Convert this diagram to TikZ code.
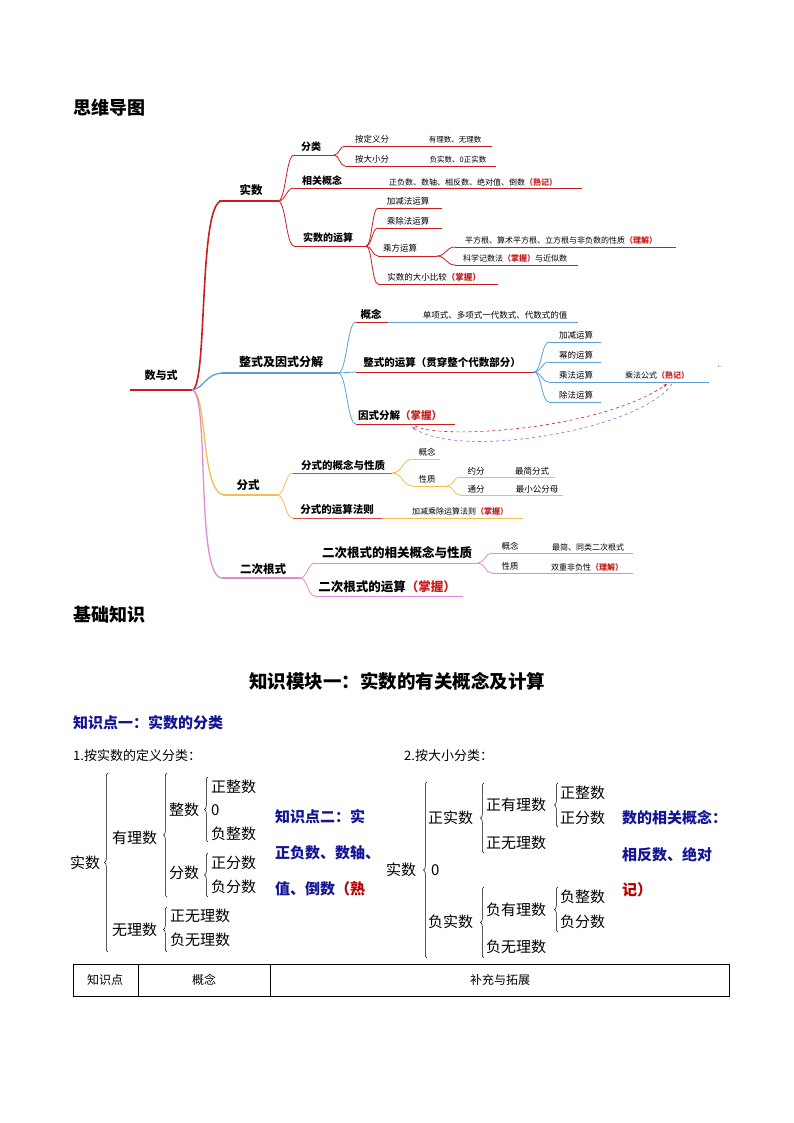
\documentclass[tikz,border=0pt]{standalone}
\usepackage{fontspec}
\setmainfont{Noto Sans CJK SC}
\usetikzlibrary{decorations.pathreplacing,arrows.meta}
\definecolor{mred}{RGB}{200,30,30}
\definecolor{mblue}{RGB}{90,160,215}
\definecolor{morange}{RGB}{242,190,80}
\definecolor{mpink}{RGB}{222,140,210}
\definecolor{kblue}{RGB}{20,20,150}
\definecolor{kred}{RGB}{180,0,0}
\newcommand{\fs}[1]{\fontsize{#1}{#1}\selectfont}
\newcommand{\rt}[1]{\textcolor{mred}{#1}}
\newcommand{\brc}[5]{\draw[#1,line width=0.8] (#2,#3) .. controls ({(#2+#4)/2},#3) and ({(#2+#4)/2},#5) .. (#4,#5);}
\newcommand{\uln}[4]{\draw[#1,line width=0.8] (#2,#4) -- (#3,#4);}
\tikzset{mm/.style={font=\fs{8.5}},tr/.style={font=\fs{15},anchor=west,inner sep=0},trb/.style={decorate,decoration={brace,amplitude=3.5},line width=0.5}}
\begin{document}
\begin{tikzpicture}[x=1pt,y=-1pt]
\useasboundingbox (0,0) rectangle (794,1123);
\node[font=\fs{18}\bfseries,anchor=west,inner sep=0] at (73,108) {思维导图};
% root
\node[font=\fs{11}\bfseries] (root) at (161,375) {数与式};
\draw[mred,line width=1.3] (130,390) -- (192,390);
\draw[mred,line width=1.6] (192,390) .. controls (208,390) and (198,201) .. (222,201);
\draw[mblue,line width=1.3] (192,390) .. controls (205,388) and (205,373) .. (224,373);
\draw[morange,line width=1.3] (192,390) .. controls (208,392) and (200,495) .. (225,495);
\draw[mpink,line width=1.3] (192,390) .. controls (210,392) and (195,578) .. (222,578);
% ---- 实数
\node[font=\fs{11.5}\bfseries] at (251,190) {实数};
\draw[mred,line width=1.3] (219,201) -- (278,201);
\brc{mred}{278}{201}{294}{155}\uln{mred}{294}{334}{155}
\node[font=\fs{10}\bfseries] at (311,147) {分类};
\brc{mred}{334}{155}{345}{146}\uln{mred}{345}{492}{146}
\brc{mred}{334}{155}{345}{166}\uln{mred}{345}{496}{166}
\node[mm] at (372,139) {按定义分};\node[font=\fs{7.5}] at (455,140) {有理数、无理数};
\node[mm] at (372,159) {按大小分};\node[font=\fs{7.5}] at (458,160) {负实数、0正实数};
\brc{mred}{278}{201}{294}{188}\uln{mred}{294}{582}{188}
\node[font=\fs{10}\bfseries] at (322,181) {相关概念};
\node[font=\fs{8}] at (473,182) {正负数、数轴、相反数、绝对值、倒数\rt{\bfseries（熟记）}};
\brc{mred}{278}{201}{294}{246}\uln{mred}{294}{366}{246}
\node[font=\fs{10}\bfseries] at (328,238) {实数的运算};
\brc{mred}{366}{246}{378}{208}\uln{mred}{378}{442}{208}
\brc{mred}{366}{246}{378}{228}\uln{mred}{378}{442}{228}
\brc{mred}{366}{246}{378}{256}\uln{mred}{378}{437}{256}
\brc{mred}{366}{246}{378}{284}\uln{mred}{378}{498}{284}
\node[mm] at (408,201) {加减法运算};
\node[mm] at (408,221) {乘除法运算};
\node[mm] at (400,248) {乘方运算};
\node[mm] at (434,277) {实数的大小比较\rt{\bfseries（掌握）}};
\brc{mred}{437}{256}{455}{247}\uln{mred}{455}{676}{247}
\brc{mred}{437}{256}{455}{265}\uln{mred}{455}{578}{265}
\node[font=\fs{8}] at (561,240) {平方根、算术平方根、立方根与非负数的性质\rt{\bfseries（理解）}};
\node[font=\fs{8}] at (515,258) {科学记数法\rt{\bfseries（掌握）}与近似数};
% ---- 整式
\node[font=\fs{12}\bfseries] at (281,362) {整式及因式分解};
\draw[mblue,line width=1.1] (222,373) -- (338,373);
\brc{mblue}{338}{373}{356}{322}\uln{mblue}{356}{578}{322}\draw[mred,line width=1] (356,322)--(388,322);
\node[font=\fs{10.5}\bfseries] at (371,314) {概念};
\node[font=\fs{8.5}] at (495,315) {单项式、多项式一代数式、代数式的值};
\brc{mblue}{338}{373}{356}{372}\draw[mred,line width=1] (356,372)--(534,372);
\node[font=\fs{10.5}\bfseries] at (442,363) {整式的运算（贯穿整个代数部分）};
\brc{mblue}{338}{373}{356}{424}\draw[mred,line width=1] (356,424)--(455,424);
\node[font=\fs{10.5}\bfseries] at (400,415) {因式分解\rt{（掌握）}};
\brc{mblue}{534}{372}{549}{342}\uln{mblue}{549}{601}{342}
\brc{mblue}{534}{372}{549}{362}\uln{mblue}{549}{601}{362}
\brc{mblue}{534}{372}{549}{382}\uln{mblue}{549}{709}{382}
\brc{mblue}{534}{372}{549}{402}\uln{mblue}{549}{601}{402}
\node[mm] at (576,335) {加减运算};
\node[mm] at (576,355) {幂的运算};
\node[mm] at (576,375) {乘法运算};
\node[mm] at (576,395) {除法运算};
\node[font=\fs{8}] at (657,375) {乘法公式\rt{\bfseries（熟记）}};
\node[font=\fs{5},text=gray] at (720,367) {←};
\draw[mred,dashed,line width=0.6,-{Stealth[length=4pt]}] (415,426) .. controls (440,440) and (600,430) .. (667,384);
\draw[mpink!70!blue,dashed,line width=0.6,-{Stealth[length=4pt]}] (672,384) .. controls (640,430) and (460,460) .. (412,427);
% ---- 分式
\node[font=\fs{11.5}\bfseries] at (248,485) {分式};
\draw[morange,line width=1.1] (223,495) -- (277,495);
\brc{morange}{277}{495}{293}{473}\draw[mred!80,line width=1] (293,473)--(392,473);
\node[font=\fs{10.5}\bfseries] at (343,465) {分式的概念与性质};
\brc{morange}{277}{495}{293}{518}\uln{morange}{382}{523}{518}\draw[mred!80,line width=1] (293,518)--(382,518);
\node[font=\fs{10.5}\bfseries] at (337,510) {分式的运算法则};
\node[font=\fs{8}] at (460,511) {加减乘除运算法则\rt{\bfseries（掌握）}};
\brc{morange}{392}{473}{413}{459}\uln{morange}{413}{440}{459}
\brc{morange}{392}{473}{413}{486}\uln{morange}{413}{447}{486}
\node[mm] at (427,452) {概念};
\node[mm] at (427,479) {性质};
\brc{morange}{447}{486}{460}{477}\uln{morange}{460}{555}{477}
\brc{morange}{447}{486}{460}{495}\uln{morange}{460}{563}{495}
\node[mm] at (476,471) {约分};\node[mm] at (532,471) {最简分式};
\node[mm] at (476,489) {通分};\node[mm] at (537,489) {最小公分母};
% ---- 二次根式
\node[font=\fs{11.5}\bfseries] at (263,569) {二次根式};
\draw[mpink,line width=1.1] (222,578) -- (300,578);
\brc{mpink}{300}{578}{315}{563}\uln{mpink}{315}{478}{563}
\brc{mpink}{300}{578}{315}{596}\uln{mpink}{315}{463}{596}
\node[font=\fs{12.5}\bfseries] at (397,553) {二次根式的相关概念与性质};
\node[font=\fs{12.5}\bfseries] at (387,587) {二次根式的运算\rt{（掌握）}};
\brc{mpink}{478}{563}{492}{553}\uln{mpink}{492}{633}{553}
\brc{mpink}{478}{563}{492}{573}\uln{mpink}{492}{633}{573}
\node[mm] at (510,546) {概念};\node[font=\fs{8}] at (588,547) {最简、同类二次根式};
\node[mm] at (510,566) {性质};\node[font=\fs{8}] at (587,567) {双重非负性\rt{\bfseries（理解）}};
% ---- lower part
\node[font=\fs{18}\bfseries,anchor=west,inner sep=0] at (73,615) {基础知识};
\node[font=\fs{18.5}\bfseries] at (397,681) {知识模块一：实数的有关概念及计算};
\node[font=\fs{15}\bfseries,text=kblue,anchor=west,inner sep=0] at (73,723) {知识点一：实数的分类};
\node[font=\fs{13},anchor=west,inner sep=0] at (73,756) {1.按实数的定义分类：};
\node[font=\fs{13},anchor=west,inner sep=0] at (404,756) {2.按大小分类：};
% tree 1
\node[tr] at (70,863) {实数};
\draw[trb] (108,952) -- (108,773);
\node[tr] at (112,838) {有理数};
\draw[trb] (167,897) -- (167,773);
\node[tr] at (169,810) {整数};
\draw[trb] (208,842) -- (208,777);
\node[tr] at (211,787) {正整数};
\node[tr] at (211,810) {0};
\node[tr] at (211,834) {负整数};
\node[tr] at (169,873) {分数};
\draw[trb] (208,897) -- (208,853);
\node[tr] at (211,863) {正分数};
\node[tr] at (211,887) {负分数};
\node[tr] at (112,930) {无理数};
\draw[trb] (167,952) -- (167,907);
\node[tr] at (170,916) {正无理数};
\node[tr] at (170,940) {负无理数};
\node[font=\fs{15}\bfseries,text=kblue,anchor=west,inner sep=0] at (275,817) {知识点二：实};
\node[font=\fs{15}\bfseries,text=kblue,anchor=west,inner sep=0] at (275,853) {正负数、数轴、};
\node[font=\fs{15}\bfseries,text=kblue,anchor=west,inner sep=0] at (275,889) {值、倒数\textcolor{kred}{（熟}};
% tree 2
\node[tr] at (386,870) {实数};
\draw[trb] (427,958) -- (427,782);
\node[tr] at (431,870) {0};
\node[tr] at (428,818) {正实数};
\draw[trb] (484,853) -- (484,783);
\node[tr] at (486,805) {正有理数};
\draw[trb] (558,827) -- (558,783);
\node[tr] at (560,793) {正整数};
\node[tr] at (560,818) {正分数};
\node[tr] at (486,843) {正无理数};
\node[tr] at (428,922) {负实数};
\draw[trb] (484,958) -- (484,887);
\node[tr] at (486,910) {负有理数};
\draw[trb] (558,932) -- (558,887);
\node[tr] at (560,897) {负整数};
\node[tr] at (560,922) {负分数};
\node[tr] at (486,947) {负无理数};
\node[font=\fs{15}\bfseries,text=kblue,anchor=west,inner sep=0] at (622,818) {数的相关概念：};
\node[font=\fs{15}\bfseries,text=kblue,anchor=west,inner sep=0] at (622,855) {相反数、绝对};
\node[font=\fs{15}\bfseries,text=kred,anchor=west,inner sep=0] at (622,890) {记）};
% table
\draw[line width=0.7] (73,964) rectangle (729,996);
\draw[line width=0.7] (138,964) -- (138,996) (270,964) -- (270,996);
\node[font=\fs{12}] at (105,980) {知识点};
\node[font=\fs{12}] at (204,980) {概念};
\node[font=\fs{12}] at (500,980) {补充与拓展};
\end{tikzpicture}
\end{document}
